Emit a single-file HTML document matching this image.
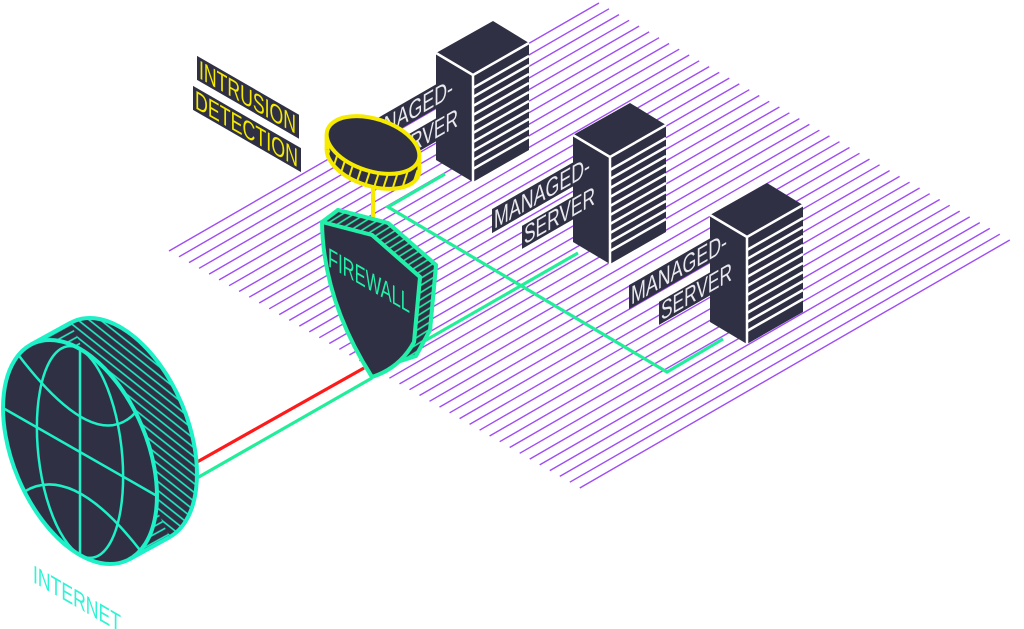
<!DOCTYPE html>
<html><head><meta charset="utf-8"><style>
html,body{margin:0;padding:0;background:#fff;}
svg{display:block;}
text{font-family:"Liberation Sans",sans-serif;}
</style></head><body>
<svg width="1024" height="629" viewBox="0 0 1024 629" xmlns="http://www.w3.org/2000/svg">
<defs>
<pattern id="hg" patternUnits="userSpaceOnUse" width="7" height="7" patternTransform="rotate(-28.8)">
<rect width="7" height="7" fill="#303044"/><line x1="0" y1="3.5" x2="7" y2="3.5" stroke="#1ef0c8" stroke-width="1.6"/></pattern>
<pattern id="hy" patternUnits="userSpaceOnUse" width="9" height="9">
<rect width="9" height="9" fill="#303044"/><line x1="4.5" y1="0" x2="4.5" y2="9" stroke="#f5ea00" stroke-width="2"/></pattern>
<pattern id="hf" patternUnits="userSpaceOnUse" width="6" height="6" patternTransform="rotate(-32)">
<rect width="6" height="6" fill="#303044"/><line x1="0" y1="3" x2="6" y2="3" stroke="#22f0a8" stroke-width="1.6"/></pattern>
</defs>

<!-- stripe plane -->
<g stroke="#a04cf5" stroke-width="1.4">
<line x1="169" y1="251" x2="599" y2="3"/><line x1="179.0" y1="256.8" x2="609.0" y2="8.8"/><line x1="189.0" y1="262.6" x2="619.0" y2="14.6"/><line x1="199.1" y1="268.3" x2="629.1" y2="20.3"/><line x1="209.1" y1="274.1" x2="639.1" y2="26.1"/><line x1="219.1" y1="279.9" x2="649.1" y2="31.9"/><line x1="229.1" y1="285.7" x2="659.1" y2="37.7"/><line x1="239.1" y1="291.5" x2="669.1" y2="43.5"/><line x1="249.2" y1="297.2" x2="679.2" y2="49.2"/><line x1="259.2" y1="303.0" x2="689.2" y2="55.0"/><line x1="269.2" y1="308.8" x2="699.2" y2="60.8"/><line x1="279.2" y1="314.6" x2="709.2" y2="66.6"/><line x1="289.2" y1="320.4" x2="719.2" y2="72.4"/><line x1="299.3" y1="326.1" x2="729.3" y2="78.1"/><line x1="309.3" y1="331.9" x2="739.3" y2="83.9"/><line x1="319.3" y1="337.7" x2="749.3" y2="89.7"/><line x1="329.3" y1="343.5" x2="759.3" y2="95.5"/><line x1="339.3" y1="349.3" x2="769.3" y2="101.3"/><line x1="349.4" y1="355.0" x2="779.4" y2="107.0"/><line x1="359.4" y1="360.8" x2="789.4" y2="112.8"/><line x1="369.4" y1="366.6" x2="799.4" y2="118.6"/><line x1="379.4" y1="372.4" x2="809.4" y2="124.4"/><line x1="389.4" y1="378.2" x2="819.4" y2="130.2"/><line x1="399.5" y1="383.9" x2="829.5" y2="135.9"/><line x1="409.5" y1="389.7" x2="839.5" y2="141.7"/><line x1="419.5" y1="395.5" x2="849.5" y2="147.5"/><line x1="429.5" y1="401.3" x2="859.5" y2="153.3"/><line x1="439.5" y1="407.1" x2="869.5" y2="159.1"/><line x1="449.6" y1="412.8" x2="879.6" y2="164.8"/><line x1="459.6" y1="418.6" x2="889.6" y2="170.6"/><line x1="469.6" y1="424.4" x2="899.6" y2="176.4"/><line x1="479.6" y1="430.2" x2="909.6" y2="182.2"/><line x1="489.6" y1="436.0" x2="919.6" y2="188.0"/><line x1="499.7" y1="441.7" x2="929.7" y2="193.7"/><line x1="509.7" y1="447.5" x2="939.7" y2="199.5"/><line x1="519.7" y1="453.3" x2="949.7" y2="205.3"/><line x1="529.7" y1="459.1" x2="959.7" y2="211.1"/><line x1="539.7" y1="464.9" x2="969.7" y2="216.9"/><line x1="549.8" y1="470.6" x2="979.8" y2="222.6"/><line x1="559.8" y1="476.4" x2="989.8" y2="228.4"/><line x1="569.8" y1="482.2" x2="999.8" y2="234.2"/><line x1="579.8" y1="488.0" x2="1009.8" y2="240.0"/>
</g>

<!-- connectors -->
<g fill="none" stroke-width="3.2">
<line x1="190" y1="466" x2="364" y2="368" stroke="#ff1a1a"/>
<line x1="190" y1="482" x2="372" y2="378" stroke="#22ee9a"/>
<line x1="400" y1="355" x2="578" y2="253" stroke="#22ee9a"/>
<polyline points="445,174 388,207 667,372 723,339" stroke="#22ee9a"/>
</g>

<!-- servers -->
<g id="srv">
<polygon points="493,21 529,43 529,150 473,182 436,160 436,53" fill="#303044"/>
<g stroke="#fff" stroke-width="2.5" fill="none">
<polyline points="436,53 473,75 529,43"/>
<line x1="473" y1="75" x2="473" y2="182"/>
<line x1="473" y1="88" x2="529" y2="56"/><line x1="473" y1="97" x2="529" y2="65"/><line x1="473" y1="106" x2="529" y2="74"/><line x1="473" y1="115" x2="529" y2="83"/><line x1="473" y1="124" x2="529" y2="92"/><line x1="473" y1="133" x2="529" y2="101"/><line x1="473" y1="142" x2="529" y2="110"/><line x1="473" y1="151" x2="529" y2="119"/><line x1="473" y1="160" x2="529" y2="128"/><line x1="473" y1="169" x2="529" y2="137"/>
</g>
</g>
<use href="#srv" transform="translate(137,82)"/>
<use href="#srv" transform="translate(274,162)"/>

<!-- server labels -->
<g id="lbl1" transform="matrix(1,-0.577,0,1,357,151)">
<rect x="-2" y="-21" width="100" height="24" fill="#303044"/>
<text x="0" y="0" font-size="26" fill="#e8e8ee" textLength="96" lengthAdjust="spacingAndGlyphs">MANAGED-</text>
<rect x="28" y="13" width="76" height="23" fill="#303044"/>
<text x="30" y="33" font-size="26" fill="#e8e8ee" textLength="71" lengthAdjust="spacingAndGlyphs">SERVER</text>
</g>
<use href="#lbl1" transform="translate(137,78)"/>
<use href="#lbl1" transform="translate(274,154)"/>

<!-- IDS labels -->
<g transform="matrix(1,0.577,0,1,199,78)">
<rect x="-2" y="-21" width="102" height="24" fill="#303044"/>
<text x="0" y="0" font-size="26" fill="#f5ea00" textLength="97" lengthAdjust="spacingAndGlyphs">INTRUSION</text>
</g>
<g transform="matrix(1,0.577,0,1,195,108)">
<rect x="-2" y="-21" width="108" height="24" fill="#303044"/>
<text x="0" y="0" font-size="26" fill="#f5ea00" textLength="103" lengthAdjust="spacingAndGlyphs">DETECTION</text>
</g>

<!-- IDS disk -->
<line x1="373" y1="182" x2="373" y2="224" stroke="#f5ea00" stroke-width="4"/>
<ellipse cx="373" cy="160" rx="48" ry="26" transform="rotate(18 373 160)" fill="url(#hy)" stroke="#f5ea00" stroke-width="4"/>
<polygon points="326.6,134.7 419.4,155.3 419.4,170.3 326.6,149.7" fill="url(#hy)"/>
<line x1="326.6" y1="134.7" x2="326.6" y2="149.7" stroke="#f5ea00" stroke-width="4"/>
<line x1="419.4" y1="155.3" x2="419.4" y2="170.3" stroke="#f5ea00" stroke-width="4"/>
<ellipse cx="373" cy="145" rx="48" ry="26" transform="rotate(18 373 145)" fill="#303044" stroke="#f5ea00" stroke-width="4"/>

<!-- firewall -->
<path d="M338,210 L388,223 L436,265 L430,330 Q416,356 388,365 Q346,318 338,210 Z" fill="url(#hf)" stroke="#22f0a8" stroke-width="4" stroke-linejoin="round"/>
<polygon points="322,222 338,210 388,223 436,265 430,330 416,356 388,365 372,377 414,342 420,277 372,235" fill="url(#hf)" stroke="#22f0a8" stroke-width="4" stroke-linejoin="round"/>
<path d="M322,222 L372,235 L420,277 L414,342 Q400,368 372,377 Q323,300 322,222 Z" fill="#303044" stroke="#22f0a8" stroke-width="4" stroke-linejoin="round"/>
<g transform="matrix(1,0.577,0,1,328,266)">
<text x="0" y="0" font-size="27" fill="#22f0a8" textLength="82" lengthAdjust="spacingAndGlyphs">FIREWALL</text>
</g>

<!-- globe -->
<ellipse cx="120" cy="430" rx="118.2" ry="67.1" transform="rotate(67.2 120 430)" fill="url(#hg)" stroke="#1ef0c8" stroke-width="4"/>
<polygon points="30.5,344.8 70.5,322.8 169.5,537.2 129.5,559.2" fill="url(#hg)"/>
<line x1="30.5" y1="344.8" x2="70.5" y2="322.8" stroke="#1ef0c8" stroke-width="4"/>
<line x1="129.5" y1="559.2" x2="169.5" y2="537.2" stroke="#1ef0c8" stroke-width="4"/>
<ellipse cx="80" cy="452" rx="118.2" ry="67.1" transform="rotate(67.2 80 452)" fill="#303044" stroke="#1ef0c8" stroke-width="4"/>
<g transform="matrix(77,44,0,103,80,452)" fill="none" stroke="#1ef0c8">
<line x1="0" y1="-1" x2="0" y2="1" stroke-width="2.5" vector-effect="non-scaling-stroke"/>
<line x1="-1" y1="0" x2="1" y2="0" stroke-width="2.5" vector-effect="non-scaling-stroke"/>
<ellipse cx="0" cy="0" rx="0.56" ry="1" stroke-width="2.5" vector-effect="non-scaling-stroke"/>
<path d="M-0.8,-0.6 Q0.2,-0.05 0.72,-0.69" stroke-width="2.5" vector-effect="non-scaling-stroke"/>
<path d="M-0.72,0.69 Q-0.1,0.15 0.78,0.62" stroke-width="2.5" vector-effect="non-scaling-stroke"/>
</g>
<g transform="matrix(1,0.577,0,1,33,582)">
<text x="0" y="0" font-size="25" fill="#2ff3d3" textLength="88" lengthAdjust="spacingAndGlyphs">INTERNET</text>
</g>
</svg>
</body></html>
